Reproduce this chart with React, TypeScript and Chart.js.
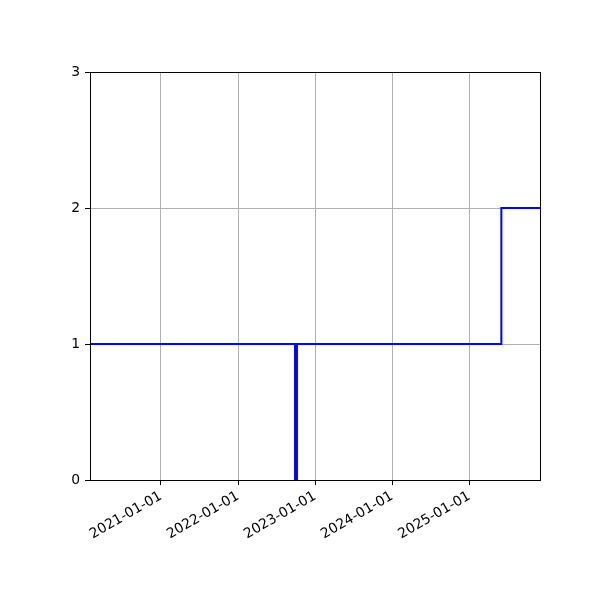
import React, { useEffect, useRef } from 'react';
import Chart from 'chart.js/auto';

// step series: value holds from each date until the next one
const stepDates = ['2020-01-31', '2022-09-28', '2022-10-07', '2025-06-01', '2025-12-01'];
const stepValues = [1, 0, 1, 2, 2];

const xTickLabels = ['2021-01-01', '2022-01-01', '2023-01-01', '2024-01-01', '2025-01-01'];
const yTickValues = [0, 1, 2, 3];

const toMs = (s: string) => {
  const [y, m, d] = s.split('-').map(Number);
  return Date.UTC(y, m - 1, d);
};

const fmt = (ms: number) => new Date(ms).toISOString().slice(0, 10);

// black box around the plot area, drawn over the line like matplotlib spines
const framePlugin = {
  id: 'frame',
  afterDatasetsDraw(chart: any) {
    const { ctx, chartArea: a } = chart;
    ctx.save();
    ctx.strokeStyle = '#000';
    ctx.lineWidth = 1;
    ctx.strokeRect(Math.round(a.left) + 0.5, Math.round(a.top) + 0.5, Math.round(a.right - a.left), Math.round(a.bottom - a.top));
    ctx.restore();
  },
};

const App: React.FC = () => {
  const chartRef = useRef<HTMLCanvasElement>(null);
  const chartInstance = useRef<Chart | null>(null);

  useEffect(() => {
    if (!chartRef.current) return;
    if (chartInstance.current) chartInstance.current.destroy();

    const points = stepDates.map((d, i) => ({ x: toMs(d), y: stepValues[i] }));
    const font = { family: 'DejaVu Sans', size: 13.9 };

    chartInstance.current = new Chart(chartRef.current, {
      type: 'line',
      data: {
        datasets: [{
          data: points,
          borderColor: '#0000ff',
          borderWidth: 2,
          pointRadius: 0,
          stepped: 'before',
          fill: false,
        }],
      },
      options: {
        animation: false,
        responsive: true,
        maintainAspectRatio: false,
        devicePixelRatio: 1,
        layout: { padding: { top: 72, right: 60, left: 0, bottom: 0 } },
        plugins: {
          legend: { display: false },
          tooltip: { enabled: false },
        },
        scales: {
          x: {
            type: 'linear',
            min: toMs(stepDates[0]),
            max: toMs(stepDates[stepDates.length - 1]),
            afterBuildTicks: (scale: any) => {
              scale.ticks = xTickLabels.map((t) => ({ value: toMs(t) }));
            },
            afterFit: (scale: any) => { scale.height = 120; },
            border: { display: true, color: '#000', width: 1 },
            grid: {
              color: '#b0b0b0',
              lineWidth: 1,
              tickColor: '#000',
              tickLength: 5,
              tickWidth: 1,
            },
            ticks: {
              color: '#000',
              font,
              padding: 3,
              minRotation: 30,
              maxRotation: 30,
              autoSkip: false,
              callback: (v: any) => fmt(Number(v)),
            },
          },
          y: {
            type: 'linear',
            min: 0,
            max: 3,
            afterBuildTicks: (scale: any) => {
              scale.ticks = yTickValues.map((v) => ({ value: v }));
            },
            afterFit: (scale: any) => { scale.width = 90; },
            border: { display: true, color: '#000', width: 1 },
            grid: {
              color: '#b0b0b0',
              lineWidth: 1,
              tickColor: '#000',
              tickLength: 5,
              tickWidth: 1,
            },
            ticks: {
              color: '#000',
              font,
              padding: 5,
              callback: (v: any) => String(v),
            },
          },
        },
      },
      plugins: [framePlugin],
    });

    return () => {
      if (chartInstance.current) {
        chartInstance.current.destroy();
        chartInstance.current = null;
      }
    };
  }, []);

  return (
    <div style={{ position: 'fixed', left: 0, top: 0, width: 600, height: 600, background: '#fff' }}>
      <canvas ref={chartRef} />
    </div>
  );
};

export default App;
